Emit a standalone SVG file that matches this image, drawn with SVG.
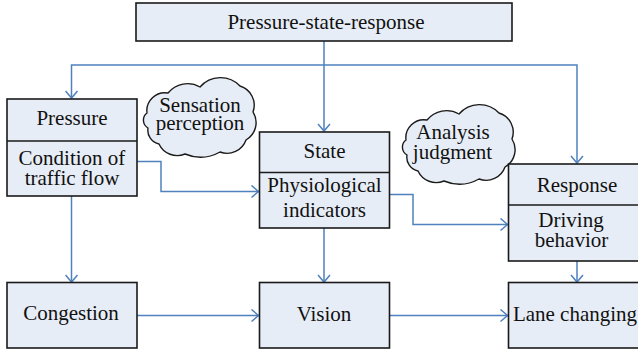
<svg xmlns="http://www.w3.org/2000/svg" xmlns:xlink="http://www.w3.org/1999/xlink" width="638" height="355" viewBox="0 0 638 355">
<style>
.box{fill:#e7edf6;stroke:#1a1a1a;stroke-width:1.6}
.div{stroke:#1a1a1a;stroke-width:1.6;fill:none}
.cloud{fill:#e7edf6;stroke:#1a1a1a;stroke-width:1.4;stroke-linejoin:round}
.t{font-family:'Liberation Serif','DejaVu Serif',serif;font-size:21px;fill:#111;text-anchor:middle}
.c{fill:none;stroke:#4f81bd;stroke-width:1.5}
.a{marker-end:url(#arr)}
</style>
<defs>
<marker id="arr" markerWidth="10" markerHeight="14" refX="8" refY="7" orient="auto" markerUnits="userSpaceOnUse">
<path d="M1,1 L8,7 L1,13" fill="none" stroke="#4f81bd" stroke-width="1.5"/>
</marker>
<path id="cloudShape" d="M147,113 A18,18 0 0 1 168,93 A25,25 0 0 1 200,87 A27,27 0 0 1 240,86 A20,20 0 0 1 253,112 A20,20 0 0 1 246,140 A20,20 0 0 1 220,152 A40,40 0 0 1 185,154 A20,20 0 0 1 159,144 A14,14 0 0 1 148,128 A9,9 0 0 1 147,113 Z"/>
</defs>
<g id="connectors">
<path class="c a" d="M324,41 V131"/>
<path class="c a" d="M324,65 H71.5 V98"/>
<path class="c a" d="M324,65 H577 V163"/>
<path class="c a" d="M137,161.5 H161 V191.5 H258.5"/>
<path class="c a" d="M389.5,194.5 H413 V224.5 H507.5"/>
<path class="c a" d="M71.5,196 V282"/>
<path class="c a" d="M324,228 V282"/>
<path class="c a" d="M577,261 V282"/>
<path class="c a" d="M137,315.5 H258.5"/>
<path class="c a" d="M389.5,315.5 H507.5"/>
</g>
<g id="top">
<rect class="box" x="136" y="3" width="376" height="38"/>
<text class="t" x="326" y="29" font-family="Liberation Serif">Pressure-state-response</text>
</g>
<g id="pressure">
<rect class="box" x="7" y="99" width="130" height="97"/>
<line class="div" x1="7" y1="141" x2="137" y2="141"/>
<text class="t" x="72" y="125">Pressure</text>
<text class="t" x="72" y="165">Condition of</text>
<text class="t" x="72" y="184.5">traffic flow</text>
</g>
<g id="sensation">
<use xlink:href="#cloudShape" class="cloud"/>
<text class="t" x="200" y="111.5">Sensation</text>
<text class="t" x="200" y="130">perception</text>
</g>
<g id="state">
<rect class="box" x="259.5" y="132" width="130" height="96"/>
<line class="div" x1="259.5" y1="172.5" x2="389.5" y2="172.5"/>
<text class="t" x="324.5" y="158">State</text>
<text class="t" x="324.5" y="192">Physiological</text>
<text class="t" x="324.5" y="216.5">indicators</text>
</g>
<g id="analysis">
<use xlink:href="#cloudShape" class="cloud" transform="translate(259,27)"/>
<text class="t" x="453" y="138.5">Analysis</text>
<text class="t" x="452.5" y="159">judgment</text>
</g>
<g id="response">
<rect class="box" x="508.5" y="164" width="135" height="97"/>
<line class="div" x1="508.5" y1="205" x2="643" y2="205"/>
<text class="t" x="577" y="192">Response</text>
<text class="t" x="571" y="227">Driving</text>
<text class="t" x="571.5" y="247">behavior</text>
</g>
<g id="congestion">
<rect class="box" x="7" y="282.5" width="130" height="65.5"/>
<text class="t" x="71" y="320">Congestion</text>
</g>
<g id="vision">
<rect class="box" x="259.5" y="282.5" width="130" height="65.5"/>
<text class="t" x="324" y="321">Vision</text>
</g>
<g id="lane">
<rect class="box" x="508.5" y="282.5" width="135" height="65.5"/>
<text class="t" x="575" y="321">Lane changing</text>
</g>
</svg>
